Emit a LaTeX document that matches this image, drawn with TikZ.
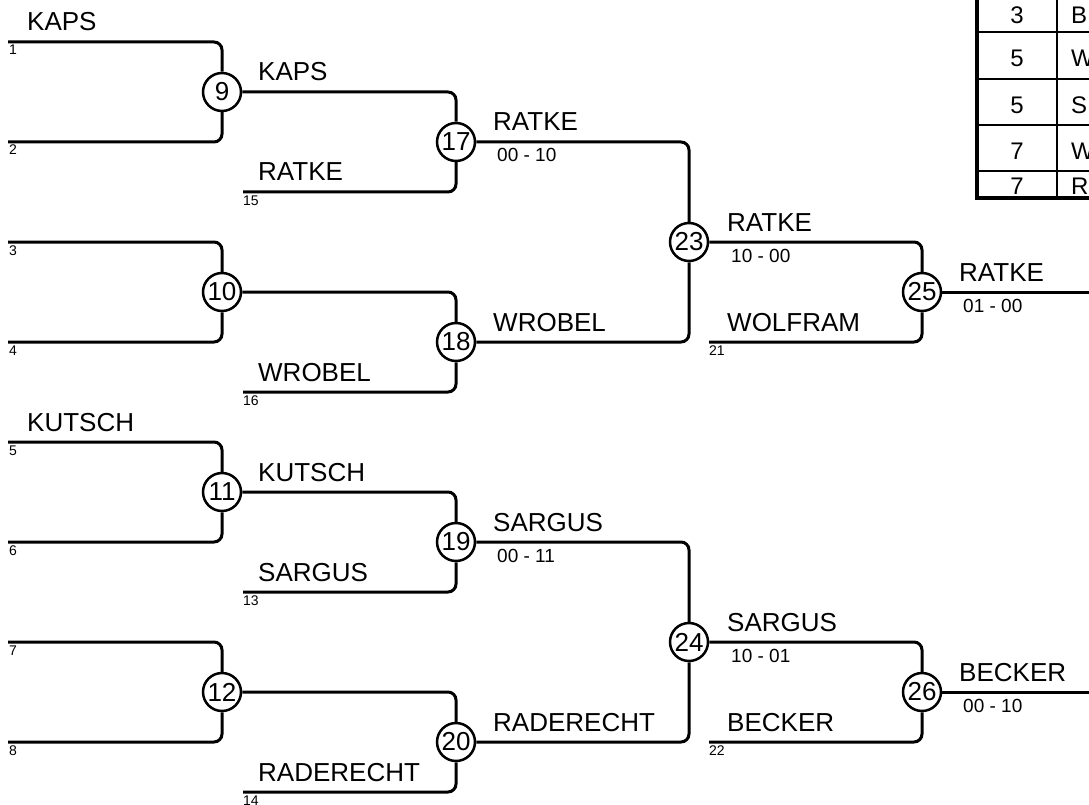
\documentclass[tikz,border=0pt]{standalone}
\usepackage{fontspec}
\setmainfont{Liberation Sans}

\begin{document}
\begin{tikzpicture}[x=1pt, y=-1pt,
  wire/.style = {line width=3pt, rounded corners=8pt},
  game/.style = {draw, circle, line width=2.5pt, inner sep=0pt, minimum size=38pt, fill=white, font=\fontsize{26}{30}\selectfont},
  player/.style = {anchor=base west, inner sep=0pt, font=\fontsize{26}{30}\selectfont},
  seed/.style = {anchor=base west, inner sep=0pt, font=\fontsize{14}{16}\selectfont},
  score/.style = {anchor=base west, inner sep=0pt, font=\fontsize{19}{22}\selectfont},
  rank/.style = {inner sep=0pt, font=\fontsize{24}{28}\selectfont}]
\clip (0,0) rectangle (1089,805);

\coordinate (s1) at (8,42);   \coordinate (s2) at (8,142);
\coordinate (s3) at (8,242);  \coordinate (s4) at (8,342);
\coordinate (s5) at (8,442);  \coordinate (s6) at (8,542);
\coordinate (s7) at (8,642);  \coordinate (s8) at (8,742);
\coordinate (s15) at (243,192); \coordinate (s16) at (243,392);
\coordinate (s13) at (243,592); \coordinate (s14) at (243,792);
\coordinate (s21) at (709,342); \coordinate (s22) at (709,742);
\coordinate (w25) at (1089,292); \coordinate (w26) at (1089,692);

\node[game] (m9) at (222,92) {9};
\node[game] (m10) at (222,292) {10};
\node[game] (m11) at (222,492) {11};
\node[game] (m12) at (222,692) {12};
\node[game] (m17) at (456,142) {17};
\node[game] (m18) at (456,342) {18};
\node[game] (m19) at (456,542) {19};
\node[game] (m20) at (456,742) {20};
\node[game] (m23) at (689,242) {23};
\node[game] (m24) at (689,642) {24};
\node[game] (m25) at (922,292) {25};
\node[game] (m26) at (922,692) {26};

\draw[wire] (s1) -| (m9);   \draw[wire] (s2) -| (m9);
\draw[wire] (s3) -| (m10);  \draw[wire] (s4) -| (m10);
\draw[wire] (s5) -| (m11);  \draw[wire] (s6) -| (m11);
\draw[wire] (s7) -| (m12);  \draw[wire] (s8) -| (m12);
\draw[wire] (m9) -| (m17);  \draw[wire] (s15) -| (m17);
\draw[wire] (m10) -| (m18); \draw[wire] (s16) -| (m18);
\draw[wire] (m11) -| (m19); \draw[wire] (s13) -| (m19);
\draw[wire] (m12) -| (m20); \draw[wire] (s14) -| (m20);
\draw[wire] (m17) -| (m23); \draw[wire] (m18) -| (m23);
\draw[wire] (m19) -| (m24); \draw[wire] (m20) -| (m24);
\draw[wire] (m23) -| (m25); \draw[wire] (s21) -| (m25);
\draw[wire] (m24) -| (m26); \draw[wire] (s22) -| (m26);
\draw[wire] (m25) -- (w25);
\draw[wire] (m26) -- (w26);

\foreach \i in {1,...,8}
  \node[seed] (d\i) at (9,{55+100*(\i-1)}) {\i};
\node[seed] (d15) at (243,205) {15};
\node[seed] (d16) at (243,405) {16};
\node[seed] (d13) at (243,605) {13};
\node[seed] (d14) at (243,805) {14};
\node[seed] (d21) at (709,355) {21};
\node[seed] (d22) at (709,755) {22};

\node[player] (p1) at (27,31) {KAPS};
\node[player] (p5) at (27,431) {KUTSCH};
\node[player] (p9) at (258,81) {KAPS};
\node[player] (p15) at (258,181) {RATKE};
\node[player] (p16) at (258,381) {WROBEL};
\node[player] (p11) at (258,481) {KUTSCH};
\node[player] (p13) at (258,581) {SARGUS};
\node[player] (p14) at (258,781) {RADERECHT};
\node[player] (p17) at (493,131) {RATKE};
\node[player] (p18) at (493,331) {WROBEL};
\node[player] (p19) at (493,531) {SARGUS};
\node[player] (p20) at (493,731) {RADERECHT};
\node[player] (p23) at (727,231) {RATKE};
\node[player] (p21) at (727,331) {WOLFRAM};
\node[player] (p24) at (727,631) {SARGUS};
\node[player] (p22) at (727,731) {BECKER};
\node[player] (p25) at (959,281) {RATKE};
\node[player] (p26) at (959,681) {BECKER};

\node[score] (r17) at (497,162) {00 - 10};
\node[score] (r23) at (731,262) {10 - 00};
\node[score] (r25) at (963,312) {01 - 00};
\node[score] (r19) at (497,562) {00 - 11};
\node[score] (r24) at (731,662) {10 - 01};
\node[score] (r26) at (963,712) {00 - 10};

\foreach \y in {32,79,125,171}
  \draw[line width=2pt] (977,\y) -- (1089,\y);
\draw[line width=2pt] (1057,0) -- (1057,198);
\node[rank] (k1) at (1017,15) {3};  \node[rank, anchor=west] (q1) at (1071,15) {B};
\node[rank] (k2) at (1017,58) {5};  \node[rank, anchor=west] (q2) at (1071,58) {W};
\node[rank] (k3) at (1017,105) {5}; \node[rank, anchor=west] (q3) at (1071,105) {S};
\node[rank] (k4) at (1017,151) {7}; \node[rank, anchor=west] (q4) at (1071,151) {W};
\node[rank] (k5) at (1017,186) {7}; \node[rank, anchor=west] (q5) at (1071,186) {R};
\draw[line width=4pt] (977,0) |- (1089,198);
\end{tikzpicture}
\end{document}
